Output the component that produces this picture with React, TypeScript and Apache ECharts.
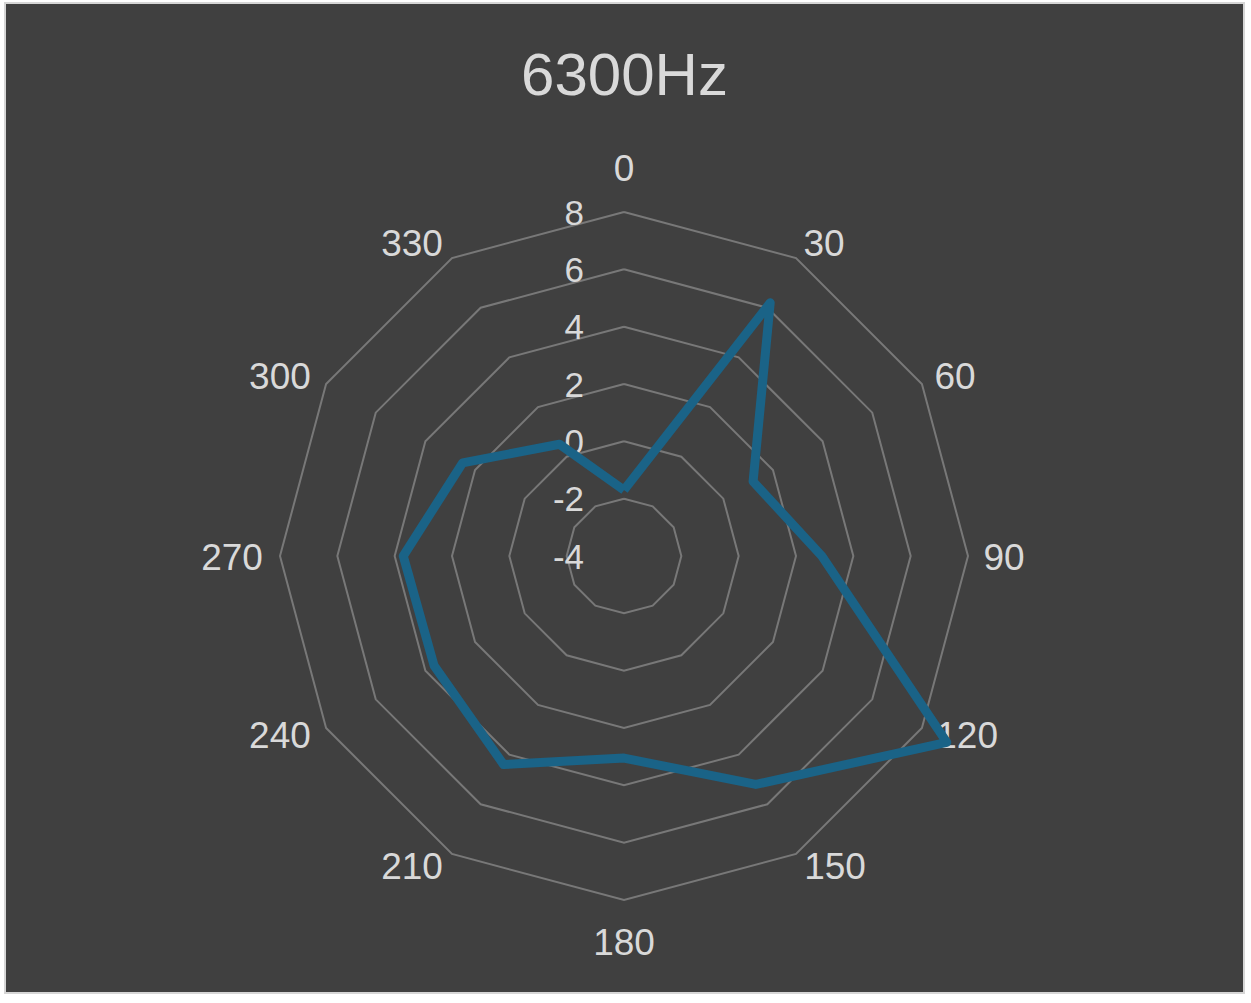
import React, { useEffect, useRef } from "react";
import * as echarts from "echarts";

const titleText = "6300Hz";
const angleLabels = ["0", "30", "60", "90", "120", "150", "180", "210", "240", "270", "300", "330"];
const levelValues = [-1.7, 6.2, 1.2, 2.9, 9.0, 5.2, 3.05, 4.4, 3.65, 3.7, 2.5, 0.5];
const axisMin = -4;
const axisMax = 8;
const axisSplits = 6;

// per-label padding [top, right, bottom, left] to mimic the spreadsheet's label placement
const labelPads: number[][] = [
  [0, 0, 16, 0],
  [34, 0, 0, 20],
  [20, 0, 0, 4],
  [2, 0, 0, 0],
  [0, 0, 22, 28],
  [0, 0, 38, 42],
  [12, 0, 0, 0],
  [0, 44, 38, 0],
  [0, 30, 22, 0],
  [2, 24, 0, 0],
  [20, 30, 0, 0],
  [34, 44, 0, 0],
];

const FONT = "'Liberation Sans', Arial, sans-serif";
const TEXT = "#d9d9d9";

export default function App() {
  const ref = useRef<HTMLDivElement>(null);
  useEffect(() => {
    if (!ref.current) return;
    const chart = echarts.init(ref.current, undefined, { renderer: "svg" });
    // ECharts places radar indicators counter-clockwise; reverse to get clockwise order
    const order = [0, ...angleLabels.map((_, i) => i).slice(1).reverse()];
    const indicator = order.map((i, k) => {
      const ind: any = { name: angleLabels[i], min: axisMin, max: axisMax };
      if (k === 0) ind.axisLabel = { show: true };
      return ind;
    });
    const vals = order.map((i) => levelValues[i]);
    const rich: any = {};
    angleLabels.forEach((_, i) => {
      rich["l" + i] = { color: TEXT, fontSize: 37, fontFamily: FONT, padding: labelPads[i] };
    });
    chart.setOption({
      animation: false,
      backgroundColor: "#404040",
      title: {
        text: titleText,
        left: "center",
        top: 40,
        padding: 0,
        textStyle: { color: TEXT, fontSize: 60, fontWeight: "normal", fontFamily: FONT },
      },
      radar: {
        center: [618, 552],
        radius: 344,
        startAngle: 90,
        splitNumber: axisSplits,
        shape: "polygon",
        nameGap: 36,
        axisName: {
          color: TEXT,
          fontSize: 37,
          fontFamily: FONT,
          align: "center",
          verticalAlign: "middle",
          formatter: (name: string) => "{l" + angleLabels.indexOf(name) + "|" + name + "}",
          rich,
        },
        axisLine: { show: false },
        axisTick: { show: false },
        splitArea: { show: false },
        splitLine: { lineStyle: { color: "#787878", width: 2 } },
        axisLabel: { show: false, color: TEXT, fontSize: 35, fontFamily: FONT, margin: 40 },
        indicator,
      },
      series: [
        {
          type: "radar",
          symbol: "none",
          lineStyle: { color: "#1a6387", width: 9, join: "round" },
          data: [{ value: vals, name: titleText }],
        },
      ],
    });
    return () => chart.dispose();
  }, []);
  return (
    <div style={{ position: "fixed", left: 0, top: 0, width: 1251, height: 1003, background: "#ffffff" }}>
      <div
        style={{
          position: "absolute",
          left: 4,
          top: 2,
          width: 1241,
          height: 992,
          boxSizing: "border-box",
          border: "2px solid #d6d6d6",
        }}
      >
        <div ref={ref} style={{ width: 1237, height: 988 }} />
      </div>
    </div>
  );
}
